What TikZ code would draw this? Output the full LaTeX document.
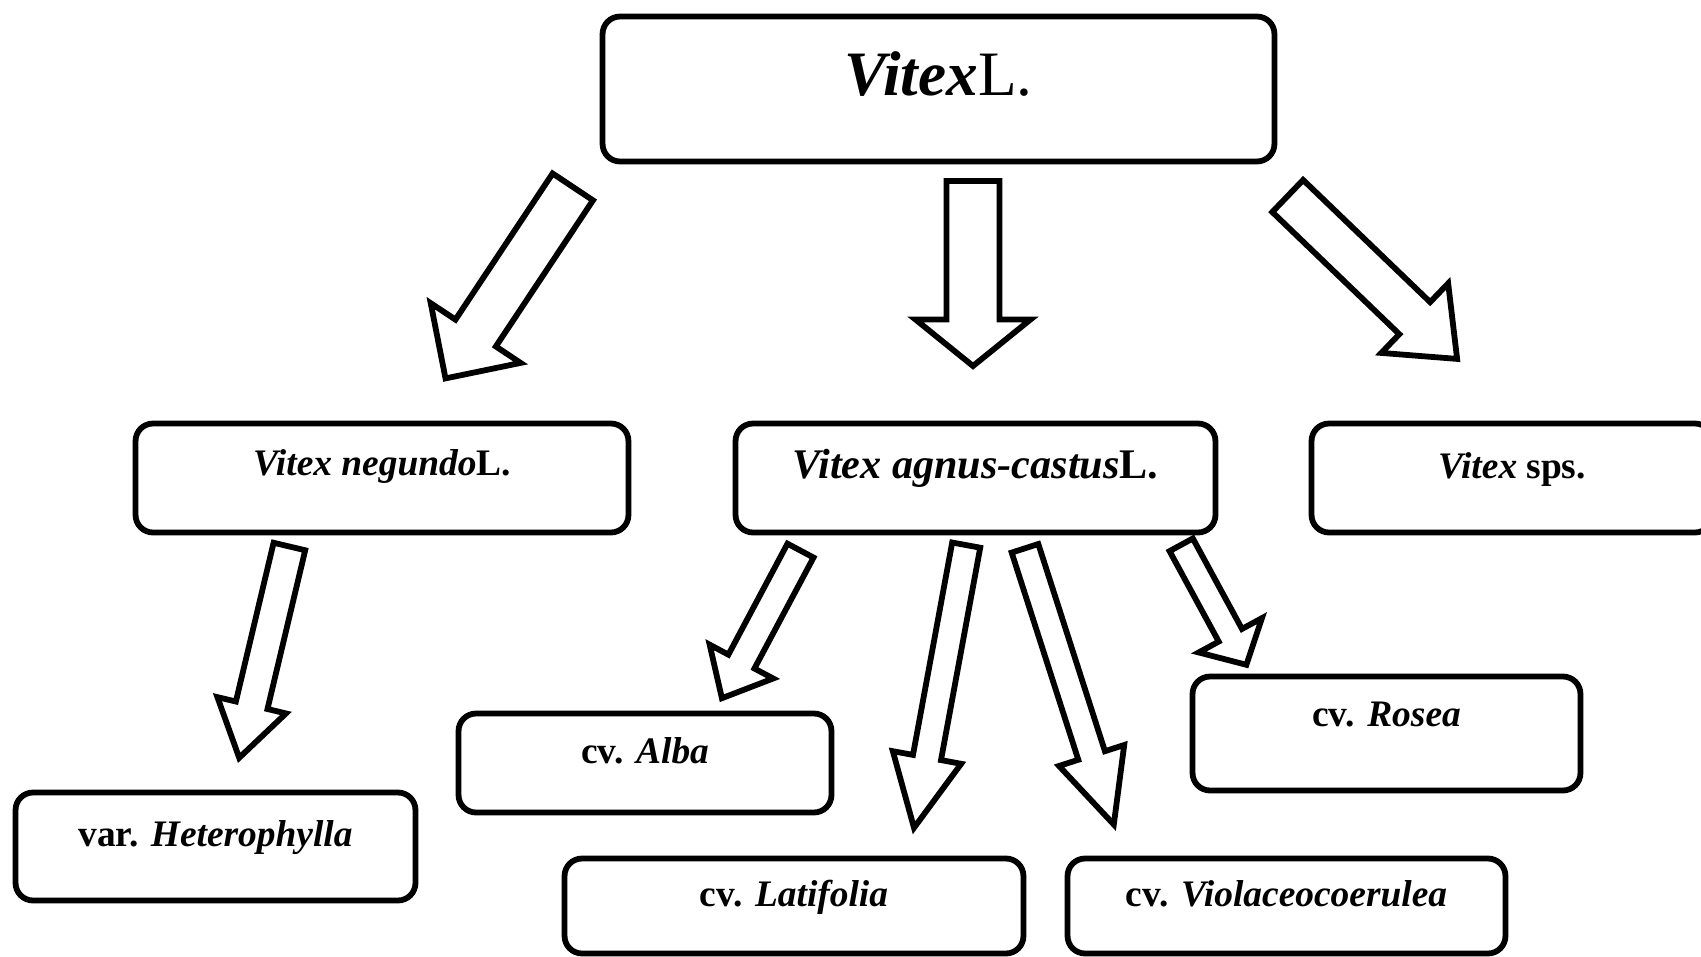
\documentclass[tikz,border=0pt]{standalone}
\usepackage{fontspec}
\setmainfont{Liberation Serif}
\usetikzlibrary{calc}

% hollow block arrow: tail, tip, shaft width, head width, head length
\newcommand{\blockarrow}[5]{%
  \draw[arrowline] let \p1=(#1), \p2=(#2),
      \n1={atan2(\y2-\y1,\x2-\x1)}, \n2={veclen(\x2-\x1,\y2-\y1)-#5} in
    ($(\p1)+(\n1-90:#3/2)$) -- ($(\p1)+(\n1:\n2)+(\n1-90:#3/2)$)
    -- ($(\p1)+(\n1:\n2)+(\n1-90:#4/2)$) -- (\p2)
    -- ($(\p1)+(\n1:\n2)+(\n1+90:#4/2)$) -- ($(\p1)+(\n1:\n2)+(\n1+90:#3/2)$)
    -- ($(\p1)+(\n1+90:#3/2)$) -- cycle;
}

\begin{document}
\begin{tikzpicture}[x=0.02cm,y=-0.02cm,
    taxon/.style={draw, line width=3.3pt, rounded corners=0.35cm, inner sep=2pt,
      font=\fontsize{21.3}{24}\selectfont\bfseries, text height=12pt, text depth=12pt},
    arrowline/.style={line width=3.3pt, line join=miter}]
      \path[use as bounding box, fill=white] (0,0) rectangle (1701,957);

      \node[taxon, minimum width=13.44cm, minimum height=2.9cm,
        font=\fontsize{36}{40}\selectfont, text height=22pt, text depth=14.6pt]
        (vitex) at (938.5,89) {{\bfseries\itshape Vitex}L.};
      \node[taxon, minimum width=9.86cm, minimum height=2.18cm, text depth=15pt] (negundo) at (382,478) {\textit{Vitex negundo}L.};
      \node[taxon, minimum width=9.6cm, minimum height=2.18cm, font=\fontsize{24}{28}\selectfont\bfseries]
        (agnus) at (975.5,478) {\textit{Vitex agnus-castus}L.};
      \node[taxon, minimum width=8.02cm, minimum height=2.18cm] (sps) at (1512,478) {\textit{Vitex} sps.};
      \node[taxon, minimum width=8cm, minimum height=2.16cm] (hetero) at (215.5,846.5) {var. \textit{Heterophylla}};
      \node[taxon, minimum width=7.46cm, minimum height=1.98cm] (alba) at (645,763) {cv. \textit{Alba}};
      \node[taxon, minimum width=9.18cm, minimum height=1.9cm] (latifolia) at (794,906) {cv. \textit{Latifolia}};
      \node[taxon, minimum width=8.76cm, minimum height=1.9cm] (violacea) at (1286.5,906) {cv. \textit{Violaceocoerulea}};
      \node[taxon, minimum width=7.76cm, minimum height=2.28cm, text depth=20.5pt] (rosea) at (1386.5,733.5) {cv. \textit{Rosea}};

      % arrow ends
      \coordinate (negundo-s) at (572.8,186.9);   \coordinate (negundo-e) at (445.5,378.4);
      \coordinate (agnus-s) at (973,181);         \coordinate (agnus-e) at (973,366);
      \coordinate (sps-s) at (1287.7,196);        \coordinate (sps-e) at (1457.1,358.9);
      \coordinate (hetero-s) at (289.4,546.5);    \coordinate (hetero-e) at (239.2,757.8);
      \coordinate (alba-s) at (800.5,550.6);      \coordinate (alba-e) at (721.9,698.2);
      \coordinate (latifolia-s) at (966.2,545.1); \coordinate (latifolia-e) at (914,827.8);
      \coordinate (violacea-s) at (1025,548.3);   \coordinate (violacea-e) at (1113.8,824.5);
      \coordinate (rosea-s) at (1181.2,544.8);    \coordinate (rosea-e) at (1246.4,664.8);

      \blockarrow{negundo-s}{negundo-e}{0.97cm}{2.16cm}{1.09cm}
      \blockarrow{agnus-s}{agnus-e}{1.06cm}{2.3cm}{0.93cm}
      \blockarrow{sps-s}{sps-e}{0.89cm}{1.93cm}{1.16cm}
      \blockarrow{hetero-s}{hetero-e}{0.65cm}{1.41cm}{1.08cm}
      \blockarrow{alba-s}{alba-e}{0.59cm}{1.44cm}{0.83cm}
      \blockarrow{latifolia-s}{latifolia-e}{0.57cm}{1.39cm}{1.43cm}
      \blockarrow{violacea-s}{violacea-e}{0.56cm}{1.37cm}{1.45cm}
      \blockarrow{rosea-s}{rosea-e}{0.53cm}{1.44cm}{0.67cm}
\end{tikzpicture}
\end{document}
